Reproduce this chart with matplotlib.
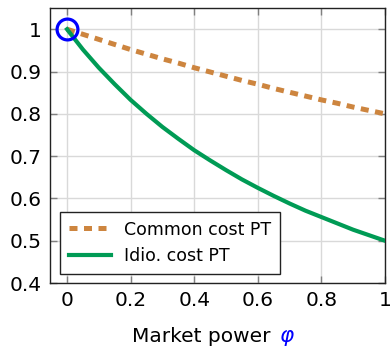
import numpy as np
import matplotlib
matplotlib.use("Agg")
import matplotlib.pyplot as plt

# values
phi = [0.0, 0.05, 0.1, 0.15, 0.2, 0.25, 0.3, 0.35, 0.4, 0.45, 0.5,
       0.55, 0.6, 0.65, 0.7, 0.75, 0.8, 0.85, 0.9, 0.95, 1.0]
common_pt = [1.0, 0.988, 0.976, 0.964, 0.952, 0.941, 0.930, 0.920, 0.909, 0.899, 0.889,
             0.879, 0.870, 0.860, 0.851, 0.842, 0.833, 0.825, 0.816, 0.808, 0.800]
idio_pt = [1.0, 0.952, 0.909, 0.870, 0.833, 0.800, 0.769, 0.741, 0.714, 0.690, 0.667,
           0.645, 0.625, 0.606, 0.588, 0.571, 0.556, 0.541, 0.526, 0.513, 0.500]
start_pt = (0.0, 1.0)
x_ticks = [0, 0.2, 0.4, 0.6, 0.8, 1]
x_ticklabels = ["0", "0.2", "0.4", "0.6", "0.8", "1"]
y_ticks = [0.4, 0.5, 0.6, 0.7, 0.8, 0.9, 1]
y_ticklabels = ["0.4", "0.5", "0.6", "0.7", "0.8", "0.9", "1"]

plt.rcParams['font.family'] = ['DejaVu Sans']
plt.rcParams['mathtext.fontset'] = 'dejavusans'

fig = plt.figure(figsize=(3.92, 3.52), dpi=100)
ax = fig.add_axes([0.128, 0.196, 0.854, 0.781])

ax.plot(phi, common_pt, color='#CD853F', lw=3.6, ls=(0, (1.6, 1.3)), label='Common cost PT', zorder=3)
ax.plot(phi, idio_pt, color='#009B55', lw=3.0, label='Idio. cost PT', zorder=3)
ax.plot([start_pt[0]], [start_pt[1]], 'o', ms=15, mfc='none', mec='#0000FF', mew=2.3, zorder=4, clip_on=False)

ax.set_xlim(-0.053, 1.0)
ax.set_ylim(0.4, 1.05)
ax.set_xticks(x_ticks)
ax.set_xticklabels(x_ticklabels)
ax.set_yticks(y_ticks)
ax.set_yticklabels(y_ticklabels)
ax.grid(True, color='#D9D9D9', lw=1.0, zorder=0)
ax.set_axisbelow(True)
ax.tick_params(direction='in', length=5, width=1, color='#808080', labelsize=14.5,
               top=True, right=True, pad=6)
for s in ax.spines.values():
    s.set_linewidth(1.0)
    s.set_color('#222222')

leg = ax.legend(loc='lower left', bbox_to_anchor=(0.03, 0.033), borderaxespad=0, fontsize=12.5,
                frameon=True, fancybox=False, edgecolor='#222222', framealpha=1, handlelength=2.4,
                borderpad=0.5, labelspacing=0.5, handletextpad=0.8)
leg.get_frame().set_linewidth(1.0)

fig.text(0.707, 0.027, "Market power ", ha='right', va='baseline', fontsize=14.5)
fig.text(0.712, 0.027, r"$\varphi$", ha='left', va='baseline', fontsize=15.5, color='#0000FF')

fig.savefig("out.png", dpi=100)
